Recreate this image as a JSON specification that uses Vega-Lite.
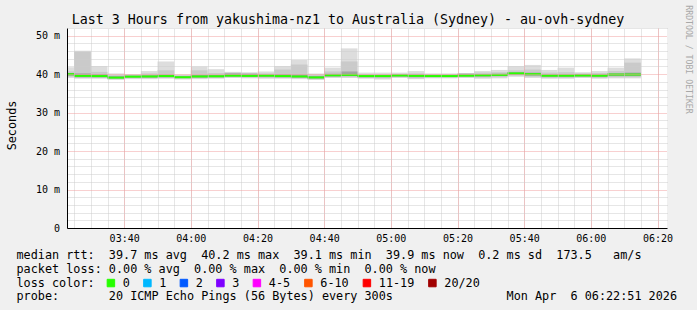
{
  "$schema": "https://vega.github.io/schema/vega-lite/v6.json",
  "width": 600,
  "height": 200,
  "autosize": "none",
  "padding": {"left": 67, "top": 28, "right": 30, "bottom": 82},
  "background": "#f0f0f0",
  "config": {
    "view": {"fill": "#ffffff", "stroke": null},
    "font": "DejaVu Sans Mono",
    "axis": {"labelFont": "DejaVu Sans Mono", "titleFont": "DejaVu Sans Mono", "titleFontWeight": "normal", "labelColor": "#000000", "titleColor": "#000000"}
  },
  "title": {
    "text": "Last 3 Hours from yakushima-nz1 to Australia (Sydney) - au-ovh-sydney",
    "font": "DejaVu Sans Mono",
    "fontSize": 13.3,
    "fontWeight": "normal",
    "color": "#000000",
    "anchor": "middle",
    "dx": -19,
    "offset": -33,
    "baseline": "alphabetic"
  },
  "data": {
    "values": [
      {"s": "2026-04-06T03:20:00Z", "e": "2026-04-06T03:25:00Z", "mn": 39.0, "l2": 39.3, "lo": 39.6, "md": 40.0, "hi": 40.3, "h2": 40.7, "mx": 41.8, "loss": "0"},
      {"s": "2026-04-06T03:25:00Z", "e": "2026-04-06T03:30:00Z", "mn": 38.8, "l2": 39.0, "lo": 39.2, "md": 39.55, "hi": 40.2, "h2": 45.8, "mx": 46.1, "loss": "0"},
      {"s": "2026-04-06T03:30:00Z", "e": "2026-04-06T03:35:00Z", "mn": 38.8, "l2": 39.0, "lo": 39.2, "md": 39.5, "hi": 40.0, "h2": 40.6, "mx": 42.1, "loss": "0"},
      {"s": "2026-04-06T03:35:00Z", "e": "2026-04-06T03:40:00Z", "mn": 38.5, "l2": 38.7, "lo": 38.9, "md": 39.1, "hi": 39.5, "h2": 39.8, "mx": 40.2, "loss": "0"},
      {"s": "2026-04-06T03:40:00Z", "e": "2026-04-06T03:45:00Z", "mn": 38.7, "l2": 38.9, "lo": 39.1, "md": 39.35, "hi": 39.6, "h2": 39.8, "mx": 40.0, "loss": "0"},
      {"s": "2026-04-06T03:45:00Z", "e": "2026-04-06T03:50:00Z", "mn": 38.7, "l2": 38.9, "lo": 39.1, "md": 39.4, "hi": 39.7, "h2": 40.2, "mx": 40.8, "loss": "0"},
      {"s": "2026-04-06T03:50:00Z", "e": "2026-04-06T03:55:00Z", "mn": 38.8, "l2": 39.0, "lo": 39.2, "md": 39.5, "hi": 39.9, "h2": 41.0, "mx": 43.3, "loss": "0"},
      {"s": "2026-04-06T03:55:00Z", "e": "2026-04-06T04:00:00Z", "mn": 38.6, "l2": 38.8, "lo": 39.0, "md": 39.2, "hi": 39.5, "h2": 39.7, "mx": 39.9, "loss": "0"},
      {"s": "2026-04-06T04:00:00Z", "e": "2026-04-06T04:05:00Z", "mn": 38.7, "l2": 38.9, "lo": 39.1, "md": 39.4, "hi": 39.8, "h2": 41.0, "mx": 42.0, "loss": "0"},
      {"s": "2026-04-06T04:05:00Z", "e": "2026-04-06T04:10:00Z", "mn": 38.8, "l2": 39.0, "lo": 39.2, "md": 39.45, "hi": 39.8, "h2": 40.3, "mx": 41.3, "loss": "0"},
      {"s": "2026-04-06T04:10:00Z", "e": "2026-04-06T04:15:00Z", "mn": 39.0, "l2": 39.2, "lo": 39.4, "md": 39.6, "hi": 40.2, "h2": 40.4, "mx": 40.6, "loss": "0"},
      {"s": "2026-04-06T04:15:00Z", "e": "2026-04-06T04:20:00Z", "mn": 38.9, "l2": 39.1, "lo": 39.3, "md": 39.55, "hi": 40.1, "h2": 40.3, "mx": 40.5, "loss": "0"},
      {"s": "2026-04-06T04:20:00Z", "e": "2026-04-06T04:25:00Z", "mn": 38.8, "l2": 39.0, "lo": 39.3, "md": 39.6, "hi": 39.9, "h2": 40.2, "mx": 40.7, "loss": "0"},
      {"s": "2026-04-06T04:25:00Z", "e": "2026-04-06T04:30:00Z", "mn": 38.8, "l2": 39.0, "lo": 39.2, "md": 39.5, "hi": 40.0, "h2": 41.2, "mx": 42.1, "loss": "0"},
      {"s": "2026-04-06T04:30:00Z", "e": "2026-04-06T04:35:00Z", "mn": 38.7, "l2": 38.9, "lo": 39.1, "md": 39.4, "hi": 39.9, "h2": 42.5, "mx": 43.7, "loss": "0"},
      {"s": "2026-04-06T04:35:00Z", "e": "2026-04-06T04:40:00Z", "mn": 38.5, "l2": 38.7, "lo": 38.9, "md": 39.15, "hi": 39.5, "h2": 39.9, "mx": 40.2, "loss": "0"},
      {"s": "2026-04-06T04:40:00Z", "e": "2026-04-06T04:45:00Z", "mn": 39.0, "l2": 39.2, "lo": 39.4, "md": 39.7, "hi": 40.1, "h2": 40.7, "mx": 41.7, "loss": "0"},
      {"s": "2026-04-06T04:45:00Z", "e": "2026-04-06T04:50:00Z", "mn": 39.0, "l2": 39.2, "lo": 39.5, "md": 39.8, "hi": 40.7, "h2": 43.3, "mx": 46.7, "loss": "0"},
      {"s": "2026-04-06T04:50:00Z", "e": "2026-04-06T04:55:00Z", "mn": 38.8, "l2": 39.0, "lo": 39.2, "md": 39.5, "hi": 39.8, "h2": 40.0, "mx": 40.4, "loss": "0"},
      {"s": "2026-04-06T04:55:00Z", "e": "2026-04-06T05:00:00Z", "mn": 38.6, "l2": 38.9, "lo": 39.2, "md": 39.5, "hi": 39.8, "h2": 40.0, "mx": 40.4, "loss": "0"},
      {"s": "2026-04-06T05:00:00Z", "e": "2026-04-06T05:05:00Z", "mn": 39.0, "l2": 39.2, "lo": 39.4, "md": 39.65, "hi": 39.9, "h2": 40.1, "mx": 40.4, "loss": "0"},
      {"s": "2026-04-06T05:05:00Z", "e": "2026-04-06T05:10:00Z", "mn": 38.7, "l2": 38.9, "lo": 39.2, "md": 39.55, "hi": 39.9, "h2": 40.2, "mx": 40.8, "loss": "0"},
      {"s": "2026-04-06T05:10:00Z", "e": "2026-04-06T05:15:00Z", "mn": 38.9, "l2": 39.1, "lo": 39.3, "md": 39.5, "hi": 39.8, "h2": 40.0, "mx": 40.2, "loss": "0"},
      {"s": "2026-04-06T05:15:00Z", "e": "2026-04-06T05:20:00Z", "mn": 38.9, "l2": 39.1, "lo": 39.3, "md": 39.5, "hi": 39.8, "h2": 40.0, "mx": 40.2, "loss": "0"},
      {"s": "2026-04-06T05:20:00Z", "e": "2026-04-06T05:25:00Z", "mn": 39.0, "l2": 39.2, "lo": 39.4, "md": 39.6, "hi": 40.1, "h2": 40.2, "mx": 40.3, "loss": "0"},
      {"s": "2026-04-06T05:25:00Z", "e": "2026-04-06T05:30:00Z", "mn": 38.8, "l2": 39.1, "lo": 39.4, "md": 39.7, "hi": 40.0, "h2": 40.4, "mx": 40.8, "loss": "0"},
      {"s": "2026-04-06T05:30:00Z", "e": "2026-04-06T05:35:00Z", "mn": 38.9, "l2": 39.2, "lo": 39.5, "md": 39.8, "hi": 40.1, "h2": 40.5, "mx": 41.1, "loss": "0"},
      {"s": "2026-04-06T05:35:00Z", "e": "2026-04-06T05:40:00Z", "mn": 39.3, "l2": 39.6, "lo": 39.8, "md": 40.2, "hi": 40.5, "h2": 41.0, "mx": 42.1, "loss": "0"},
      {"s": "2026-04-06T05:40:00Z", "e": "2026-04-06T05:45:00Z", "mn": 39.0, "l2": 39.3, "lo": 39.6, "md": 40.0, "hi": 40.4, "h2": 41.2, "mx": 42.4, "loss": "0"},
      {"s": "2026-04-06T05:45:00Z", "e": "2026-04-06T05:50:00Z", "mn": 38.8, "l2": 39.0, "lo": 39.3, "md": 39.6, "hi": 39.9, "h2": 40.4, "mx": 41.1, "loss": "0"},
      {"s": "2026-04-06T05:50:00Z", "e": "2026-04-06T05:55:00Z", "mn": 38.8, "l2": 39.0, "lo": 39.3, "md": 39.6, "hi": 39.9, "h2": 40.5, "mx": 41.7, "loss": "0"},
      {"s": "2026-04-06T05:55:00Z", "e": "2026-04-06T06:00:00Z", "mn": 39.0, "l2": 39.2, "lo": 39.4, "md": 39.65, "hi": 40.0, "h2": 40.2, "mx": 40.5, "loss": "0"},
      {"s": "2026-04-06T06:00:00Z", "e": "2026-04-06T06:05:00Z", "mn": 38.8, "l2": 39.0, "lo": 39.3, "md": 39.6, "hi": 39.9, "h2": 40.3, "mx": 40.8, "loss": "0"},
      {"s": "2026-04-06T06:05:00Z", "e": "2026-04-06T06:10:00Z", "mn": 38.9, "l2": 39.2, "lo": 39.5, "md": 39.9, "hi": 40.2, "h2": 40.8, "mx": 41.7, "loss": "0"},
      {"s": "2026-04-06T06:10:00Z", "e": "2026-04-06T06:15:00Z", "mn": 38.9, "l2": 39.2, "lo": 39.5, "md": 39.9, "hi": 40.4, "h2": 43.0, "mx": 44.1, "loss": "0"}
    ]
  },
  "layer": [
    {
      "mark": {"type": "rect", "fill": "#dddddd", "clip": true},
      "encoding": {
        "x": {
          "field": "s", "type": "temporal",
          "scale": {"type": "utc", "nice": false, "domain": [
            {"year": 2026, "month": 4, "date": 6, "hours": 3, "minutes": 22, "seconds": 51, "utc": true},
            {"year": 2026, "month": 4, "date": 6, "hours": 6, "minutes": 22, "seconds": 51, "utc": true}
          ]},
          "axis": {"orient": "top", "domain": false, "ticks": false, "labels": false, "title": null, "grid": true, "gridColor": "#cccccc", "gridDash": [1, 1], "gridWidth": 1, "tickCount": 36, "zindex": 1}
        },
        "x2": {"field": "e"},
        "y": {
          "field": "mx", "type": "quantitative",
          "scale": {"domain": [0, 52], "nice": false, "zero": true},
          "axis": {"orient": "right", "values": [2, 4, 6, 8, 12, 14, 16, 18, 22, 24, 26, 28, 32, 34, 36, 38, 42, 44, 46, 48, 52], "domain": false, "ticks": false, "labels": false, "grid": true, "gridColor": "#cccccc", "gridDash": [1, 1], "gridWidth": 1, "zindex": 1,
            "title": "RRDTOOL / TOBI OETIKER", "titleAngle": 90, "titleX": 20, "titleY": 31, "titleAlign": "center", "titleBaseline": "middle", "titleFontSize": 8.2, "titleColor": "#a8a8a8"}
        },
        "y2": {"field": "mn"}
      }
    },
    {
      "mark": {"type": "rect", "fill": "#cacaca", "clip": true},
      "encoding": {
        "x": {"field": "s", "type": "temporal", "axis": null},
        "x2": {"field": "e"},
        "y": {"field": "h2", "type": "quantitative", "axis": null},
        "y2": {"field": "l2"}
      }
    },
    {
      "mark": {"type": "rect", "fill": "#a4a4a4", "clip": true},
      "encoding": {
        "x": {"field": "s", "type": "temporal", "axis": null},
        "x2": {"field": "e"},
        "y": {"field": "hi", "type": "quantitative", "axis": null},
        "y2": {"field": "lo"}
      }
    },
    {
      "mark": {"type": "rule", "strokeWidth": 2, "clip": true},
      "encoding": {
        "x": {
          "field": "s", "type": "temporal",
          "axis": {"orient": "bottom",
            "values": [
              {"year": 2026, "month": 4, "date": 6, "hours": 3, "minutes": 40, "utc": true},
              {"year": 2026, "month": 4, "date": 6, "hours": 4, "minutes": 0, "utc": true},
              {"year": 2026, "month": 4, "date": 6, "hours": 4, "minutes": 20, "utc": true},
              {"year": 2026, "month": 4, "date": 6, "hours": 4, "minutes": 40, "utc": true},
              {"year": 2026, "month": 4, "date": 6, "hours": 5, "minutes": 0, "utc": true},
              {"year": 2026, "month": 4, "date": 6, "hours": 5, "minutes": 20, "utc": true},
              {"year": 2026, "month": 4, "date": 6, "hours": 5, "minutes": 40, "utc": true},
              {"year": 2026, "month": 4, "date": 6, "hours": 6, "minutes": 0, "utc": true},
              {"year": 2026, "month": 4, "date": 6, "hours": 6, "minutes": 20, "utc": true}
            ],
            "format": "%H:%M", "labelFontSize": 10, "labelPadding": 5, "labelBaseline": "top", "labelFlush": false, "labelOverlap": false, "ticks": false, "tickSize": 0, "domain": true, "domainColor": "#000000", "domainWidth": 1, "grid": true, "gridColor": "#f0a0a0", "gridDash": [1, 1], "gridWidth": 1, "zindex": 1,
            "title": [
              "median rtt:\u00a0\u00a039.7 ms avg\u00a0\u00a040.2 ms max\u00a0\u00a039.1 ms min\u00a0\u00a039.9 ms now\u00a0\u00a00.2 ms sd\u00a0\u00a0173.5\u00a0\u00a0\u00a0am/s",
              "packet loss: 0.00 % avg\u00a0\u00a00.00 % max\u00a0\u00a00.00 % min\u00a0\u00a00.00 % now",
              "loss color:",
              "probe:\u00a0\u00a0\u00a0\u00a0\u00a0\u00a0\u00a020 ICMP Echo Pings (56 Bytes) every 300s\u00a0\u00a0\u00a0\u00a0\u00a0\u00a0\u00a0\u00a0\u00a0\u00a0\u00a0\u00a0\u00a0\u00a0\u00a0\u00a0Mon Apr\u00a0\u00a06 06:22:51 2026"
            ],
            "titleX": -51, "titleY": 30.3, "titleAnchor": "start", "titleAlign": "left", "titleBaseline": "alphabetic", "titleLineHeight": 13.9, "titleFontSize": 11.8}
        },
        "x2": {"field": "e"},
        "y": {
          "field": "md", "type": "quantitative",
          "axis": {"orient": "left", "values": [0, 10, 20, 30, 40, 50], "labelExpr": "datum.value == 0 ? '0\u00a0\u00a0' : datum.value + '\u00a0m'", "labelFontSize": 10, "labelPadding": 7.5, "labelAlign": "right", "labelBaseline": "middle", "ticks": false, "tickSize": 0, "domain": true, "domainColor": "#000000", "domainWidth": 1, "grid": true, "gridColor": "#f0a0a0", "gridDash": [1, 1], "gridWidth": 1, "zindex": 1,
            "title": "Seconds", "titleAngle": 270, "titleX": -56, "titleY": 97, "titleAlign": "center", "titleBaseline": "middle", "titleFontSize": 11.8}
        },
        "color": {
          "field": "loss", "type": "nominal",
          "scale": {"domain": ["0", "1", "2", "3", "4-5", "6-10", "11-19", "20/20"], "range": ["#26ff00", "#00b8ff", "#0059ff", "#7e00ff", "#ff00ff", "#ff5500", "#ff0000", "#a10000"]},
          "legend": {
            "orient": "none", "legendX": 38, "legendY": 249, "direction": "horizontal",
            "title": null,
            "labelFont": "DejaVu Sans Mono", "labelFontSize": 11.8, "labelColor": "#000000", "labelOffset": 6,
            "symbolType": "square", "symbolSize": 56, "symbolStrokeWidth": 1, "symbolStrokeColor": "#000000", "columnPadding": 11.5, "padding": 0,
            "encode": {"symbols": {"update": {"fill": {"scale": "color", "field": "value"}, "stroke": {"value": "#000000"}, "strokeWidth": {"value": 1}, "opacity": {"value": 1}}}}
          }
        }
      }
    }
  ],
  "resolve": {"axis": {"x": "independent", "y": "independent"}}
}
